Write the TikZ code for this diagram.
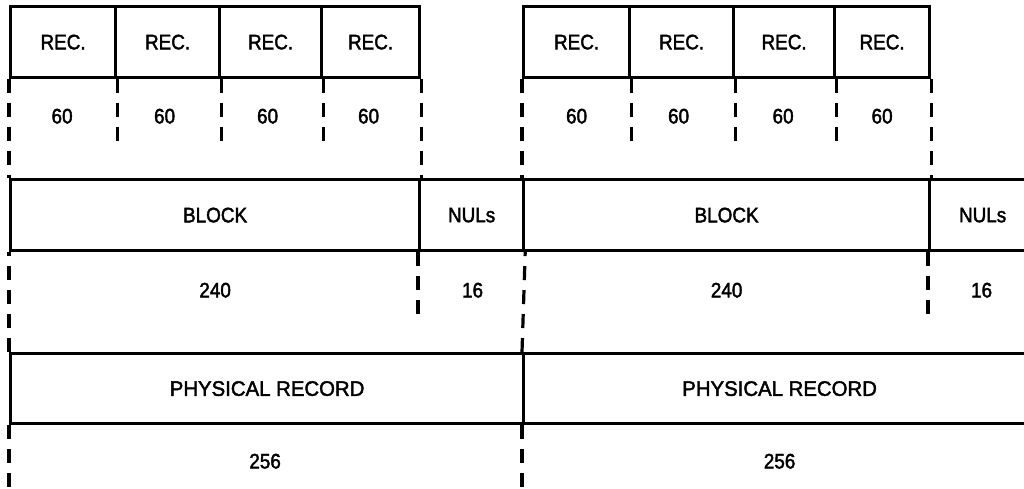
\documentclass[tikz,border=0pt]{standalone}
\usepackage{fontspec}
\setmainfont{Liberation Sans}[FakeStretch=0.9, FakeBold=2]
\newfontfamily\physfont{Liberation Sans}[FakeStretch=0.97, FakeBold=2]
\begin{document}
\begin{tikzpicture}[x=1pt,y=-1pt,
  cell/.style={draw, line width=3.2pt, minimum height=71pt, anchor=north west, inner sep=0pt, font=\fontsize{21}{24}\selectfont},
  ext/.style={line width=3.2pt, dash pattern=on 14pt off 10pt},
  lab/.style={inner sep=0pt, font=\fontsize{21}{24}\selectfont}]
\useasboundingbox (0,0) rectangle (1024,489);
\clip (0,0) rectangle (1024,489);
% record row, left
\node[cell, minimum width=105pt] (r1) at (9,5) {REC.};
\node[cell, minimum width=104pt] (r2) at (114,5) {REC.};
\node[cell, minimum width=102pt] (r3) at (218,5) {REC.};
\node[cell, minimum width=98pt]  (r4) at (320,5) {REC.};
% record row, right
\node[cell, minimum width=106pt] (s1) at (522,5) {REC.};
\node[cell, minimum width=104pt] (s2) at (628,5) {REC.};
\node[cell, minimum width=101pt] (s3) at (732,5) {REC.};
\node[cell, minimum width=95pt]  (s4) at (833,5) {REC.};
% block row
\node[cell, minimum width=409pt] (b1) at (9,178) {BLOCK};
\node[cell, minimum width=104pt] (u1) at (418,178) {NULs};
\node[cell, minimum width=406pt] (b2) at (522,178) {BLOCK};
\node[cell, minimum width=106pt] (u2) at (928,178) {NULs};
% physical record row
\node[cell, minimum width=513pt, minimum height=70pt, font=\physfont\fontsize{21}{24}\selectfont] (p1) at (9,352) {PHYSICAL RECORD};
\node[cell, minimum width=512pt, minimum height=70pt, font=\physfont\fontsize{21}{24}\selectfont] (p2) at (522,352) {PHYSICAL RECORD};
% size labels
\path (r1.south) ++(-1,37) node[lab] (n1) {60};
\path (r2.south) ++(-3,37) node[lab] (n2) {60};
\path (r3.south) ++(-3,37) node[lab] (n3) {60};
\path (r4.south) ++(-2,37) node[lab] (n4) {60};
\path (s1.south) ++(0,37) node[lab] (m1) {60};
\path (s2.south) ++(-3,37) node[lab] (m2) {60};
\path (s3.south) ++(-1,37) node[lab] (m3) {60};
\path (s4.south) ++(0,37) node[lab] (m4) {60};
\path (b1.south) ++(0,38) node[lab] (k1) {240};
\path (u1.south) ++(1,38) node[lab] (v1) {16};
\path (b2.south) ++(0,38) node[lab] (k2) {240};
\path (u2.south) ++(-1,38) node[lab] (v2) {16};
\path (p1.south) ++(-2,36) node[lab] (q1) {256};
\path (p2.south) ++(0,36) node[lab] (q2) {256};
% extension lines
\draw[ext] (r1.south west) -- (b1.north west);
\draw[ext] (r1.south east) -- ++(0,62);
\draw[ext] (r2.south east) -- ++(0,62);
\draw[ext] (r3.south east) -- ++(0,62);
\draw[ext] (r4.south east) -- (b1.north east);
\draw[ext] (s1.south west) -- (b2.north west);
\draw[ext] (s1.south east) -- ++(0,62);
\draw[ext] (s2.south east) -- ++(0,62);
\draw[ext] (s3.south east) -- ++(0,62);
\draw[ext] (s4.south east) -- (b2.north east);
\draw[ext] (p1.north west) -- (b1.south west);
\draw[ext] (u1.south west) -- ++(0,62);
\draw[ext] (p2.north west) -- (u1.south east);
\draw[ext] (u2.south west) -- ++(0,62);
\draw[ext] (p1.south west) -- ++(0,72);
\draw[ext] (p2.south west) -- ++(0,72);
\end{tikzpicture}
\end{document}
